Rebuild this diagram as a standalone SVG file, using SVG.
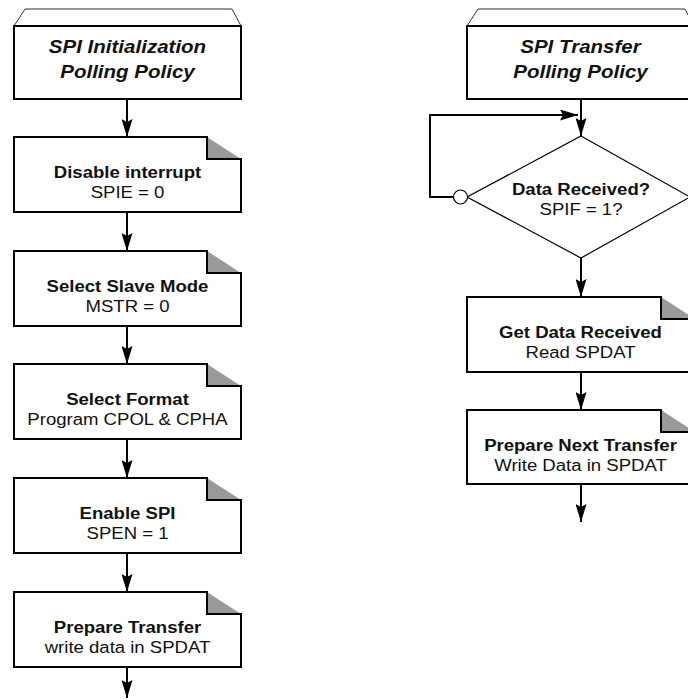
<svg xmlns="http://www.w3.org/2000/svg" width="688" height="700" viewBox="0 0 688 700">
<defs>
<style>
.box{fill:#fff;stroke:#000;stroke-width:2}
.fold{fill:#999;stroke:none}
.trap{fill:#fff;stroke:#333;stroke-width:1}
.dia{fill:#fff;stroke:#000;stroke-width:1.2}
.conn{fill:none;stroke:#000;stroke-width:2}
.t{font-family:"Liberation Sans",Arial,sans-serif;text-anchor:middle;fill:#111}
.ti{font-size:18px;font-weight:bold;font-style:italic}
.b{font-size:16px;font-weight:bold}
.r{font-size:16px}
</style>
<marker id="ah" markerUnits="userSpaceOnUse" markerWidth="18" markerHeight="11" refX="18" refY="5.5" orient="auto">
<path d="M0,0 L18,5.5 L0,11 L3,5.5 z" fill="#000"/>
</marker>
</defs>
<rect width="688" height="700" fill="#fff"/>

<g id="connectors">
<line class="conn" x1="127" y1="99" x2="127" y2="137" marker-end="url(#ah)"/>
<line class="conn" x1="127" y1="212" x2="127" y2="251" marker-end="url(#ah)"/>
<line class="conn" x1="127" y1="326" x2="127" y2="364" marker-end="url(#ah)"/>
<line class="conn" x1="127" y1="439" x2="127" y2="478" marker-end="url(#ah)"/>
<line class="conn" x1="127" y1="553" x2="127" y2="592" marker-end="url(#ah)"/>
<line class="conn" x1="127" y1="667" x2="127" y2="698" marker-end="url(#ah)"/>
<line class="conn" x1="581" y1="99" x2="581" y2="136" marker-end="url(#ah)"/>
<path class="conn" d="M453,197 H430 V115 H578" marker-end="url(#ah)"/>
<line class="conn" x1="581" y1="258" x2="581" y2="297" marker-end="url(#ah)"/>
<line class="conn" x1="581" y1="372" x2="581" y2="410" marker-end="url(#ah)"/>
<line class="conn" x1="581" y1="484" x2="581" y2="522" marker-end="url(#ah)"/>
</g>

<g id="init-title">
<polygon class="trap" points="25,9 232,9 241,26 14,26"/>
<rect class="box" x="14" y="26" width="227" height="73"/>
<g transform="translate(127.5 0) scale(1.14 1)">
<text class="t ti" x="0" y="53">SPI Initialization</text>
<text class="t ti" x="0" y="78">Polling Policy</text>
</g>
</g>

<g id="disable-int">
<polygon class="fold" points="207,137 241,159 207,159"/>
<path class="box" d="M14,137 H207 V159 H241 V212 H14 Z"/>
<g transform="translate(127.5 0) scale(1.16 1)">
<text class="t b" x="0" y="178">Disable interrupt</text>
<text class="t r" x="0" y="198">SPIE = 0</text>
</g>
</g>

<g id="slave-mode">
<polygon class="fold" points="207,251 241,273 207,273"/>
<path class="box" d="M14,251 H207 V273 H241 V326 H14 Z"/>
<g transform="translate(127.5 0) scale(1.16 1)">
<text class="t b" x="0" y="292">Select Slave Mode</text>
<text class="t r" x="0" y="312">MSTR = 0</text>
</g>
</g>

<g id="select-format">
<polygon class="fold" points="207,364 241,386 207,386"/>
<path class="box" d="M14,364 H207 V386 H241 V439 H14 Z"/>
<g transform="translate(127.5 0) scale(1.16 1)">
<text class="t b" x="0" y="405">Select Format</text>
<text class="t r" x="0" y="425">Program CPOL &amp; CPHA</text>
</g>
</g>

<g id="enable-spi">
<polygon class="fold" points="207,478 241,500 207,500"/>
<path class="box" d="M14,478 H207 V500 H241 V553 H14 Z"/>
<g transform="translate(127.5 0) scale(1.16 1)">
<text class="t b" x="0" y="519">Enable SPI</text>
<text class="t r" x="0" y="539">SPEN = 1</text>
</g>
</g>

<g id="prepare-transfer">
<polygon class="fold" points="207,592 241,614 207,614"/>
<path class="box" d="M14,592 H207 V614 H241 V667 H14 Z"/>
<g transform="translate(127.5 0) scale(1.16 1)">
<text class="t b" x="0" y="633">Prepare Transfer</text>
<text class="t r" x="0" y="653">write data in SPDAT</text>
</g>
</g>

<g id="transfer-title">
<polygon class="trap" points="478,9 685,9 694,26 467,26"/>
<rect class="box" x="467" y="26" width="227" height="73"/>
<g transform="translate(580.5 0) scale(1.14 1)">
<text class="t ti" x="0" y="53">SPI Transfer</text>
<text class="t ti" x="0" y="78">Polling Policy</text>
</g>
</g>

<g id="data-received">
<polygon class="dia" points="581,136 690,197 581,258 467,197"/>
<circle cx="460.5" cy="197" r="7" fill="#fff" stroke="#000" stroke-width="1.2"/>
<g transform="translate(581 0) scale(1.16 1)">
<text class="t b" x="0" y="195">Data Received?</text>
<text class="t r" x="0" y="215">SPIF = 1?</text>
</g>
</g>

<g id="get-data">
<polygon class="fold" points="661,297 695,319 661,319"/>
<path class="box" d="M467,297 H661 V319 H695 V372 H467 Z"/>
<g transform="translate(580.5 0) scale(1.16 1)">
<text class="t b" x="0" y="338">Get Data Received</text>
<text class="t r" x="0" y="358">Read SPDAT</text>
</g>
</g>

<g id="prepare-next">
<polygon class="fold" points="661,410 695,432 661,432"/>
<path class="box" d="M467,410 H661 V432 H695 V484 H467 Z"/>
<g transform="translate(580.5 0) scale(1.16 1)">
<text class="t b" x="0" y="451">Prepare Next Transfer</text>
<text class="t r" x="0" y="471">Write Data in SPDAT</text>
</g>
</g>
</svg>
